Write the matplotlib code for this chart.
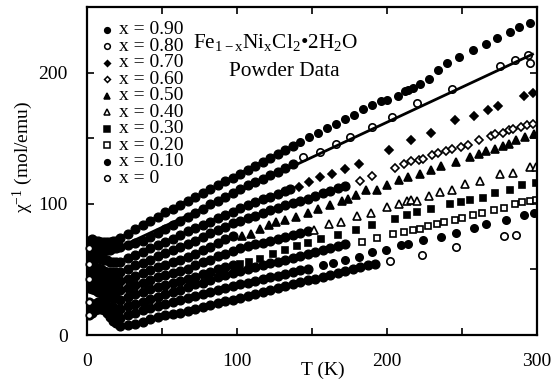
import matplotlib
matplotlib.use("Agg")
import matplotlib.pyplot as plt

plt.rcParams['font.family'] = ['Liberation Serif', 'DejaVu Serif']
plt.rcParams['mathtext.fontset'] = 'custom'
plt.rcParams['mathtext.rm'] = 'Liberation Serif'
plt.rcParams['mathtext.it'] = 'Liberation Serif:italic'

# low temperature points shared grid (K)
t_low = [1, 3, 5, 7, 9, 11, 13, 15, 17, 19]

# x = 0.90
lo_t_90 = t_low + [22, 27, 32, 37, 42, 47, 52, 57, 62, 67, 72, 77, 82, 87, 92, 97, 102, 107,
                   112, 117, 122, 127, 132, 137]
lo_c_90 = [72, 73, 72, 72, 71, 71, 71, 71, 72, 72,
           74, 77, 80.5, 84, 87, 90, 93.5, 96, 99, 102.5, 105, 108, 111, 114, 117.5, 120,
           123, 126, 129, 132, 135, 138, 141, 144]
hi_t_90 = [142, 148, 154, 160, 166, 172, 178, 184, 190, 196, 200, 207, 212, 214, 217, 222,
           228, 234, 240, 248, 257, 266, 273, 282, 288, 295]
hi_c_90 = [147, 151, 154, 158, 161, 165, 168, 172, 175, 178, 179, 182, 186, 187, 188, 191,
           195, 202, 207, 212, 217, 222, 226, 231, 235, 238]

# x = 0.80
lo_t_80 = t_low + [22, 27, 32, 37, 42, 47, 52, 57, 62, 67, 72, 77, 82, 87, 92, 97, 102, 107,
                   112, 117, 122, 127, 132, 137]
lo_c_80 = [66, 66, 65, 65, 64, 64, 65, 65, 66, 66,
           67, 68.5, 70, 72, 75, 78, 81, 84, 87, 90, 93, 96, 99.5, 102.5, 105.5, 108,
           111, 114, 116.5, 119, 122, 124.5, 127, 130]
hi_t_80 = [144, 155, 166, 175, 190, 203, 220, 243, 275, 285, 294, 295.5]
hi_c_80 = [135.6, 139.4, 145.8, 150.8, 158.4, 166, 176.5, 187.6, 205.3, 209.4, 213.5, 207.5]
fit_t_80 = [20, 297]
fit_c_80 = [66, 214]

# x = 0.70
lo_t_70 = t_low + [22, 27, 32, 37, 42, 47, 52, 57, 62, 67, 72, 77, 82, 87, 92, 97, 102, 107,
                   112, 117, 122, 127, 132, 135]
lo_c_70 = [61, 60, 60, 59, 58, 57, 57, 56, 56, 56,
           56, 58.5, 61, 63.5, 66, 68.5, 71, 73.5, 76, 79, 81.5, 84, 86.5, 89, 91.5, 94,
           96.5, 99, 101, 103.5, 105.5, 107.5, 110, 111]
hi_t_70 = [141, 148, 155, 163, 172, 181, 201, 216, 229, 245, 258, 267, 274, 291, 297]
hi_c_70 = [112.8, 116.6, 120.4, 123, 126.8, 130.6, 141.2, 148.8, 153.8, 163.5, 167.1, 171.6,
           174.7, 182.5, 184.6]

# x = 0.60
lo_t_60 = t_low + [22, 27, 32, 37, 42, 47, 52, 57, 62, 67, 72, 77, 82, 87, 92, 97, 102, 107,
                   112, 117, 122, 127, 132, 137, 142, 147, 152, 157, 162, 167, 172]
lo_c_60 = [54, 53, 52, 51, 50, 49, 48, 48, 48, 48,
           48, 50.5, 53, 55, 57.5, 60, 62.5, 64.5, 67, 69.5, 72, 75, 77.5, 80, 82.5, 85,
           87, 89, 91, 93, 95, 97, 99, 100.5, 102.5, 104, 106, 108, 110, 112, 113.5]
hi_t_60 = [182, 190, 205, 211, 216, 221, 224, 230, 234, 239, 243, 249, 254, 261, 269, 272,
           277, 281, 284, 289, 293, 297]
hi_c_60 = [117.5, 121, 127.5, 130, 132.5, 133.5, 134.5, 137.5, 139, 140.5, 142, 143.2, 145,
           148.8, 152, 152.9, 153.9, 155.9, 156.7, 158.4, 159.7, 161]

# x = 0.50
lo_t_50 = t_low + [22, 27, 32, 37, 42, 47, 52, 57, 62, 67, 72, 77, 82, 87, 92, 97]
lo_c_50 = [48, 47, 46, 45, 44, 43, 42, 42, 41, 41,
           41, 43, 45, 47, 49.5, 51.5, 53.5, 55.5, 57.5, 59.5, 62, 64.5, 67, 70, 73, 75.5]
hi_t_50 = [103, 109, 115, 121, 126, 132, 139, 147, 154, 162, 170, 174, 179, 186, 193, 200,
           208, 214, 222, 229, 236, 246, 255, 261, 266, 272, 277, 281, 286, 292, 298]
hi_c_50 = [75.5, 77.3, 81.1, 83.7, 86.2, 87.5, 90, 93, 96.3, 98.9, 101.9, 103.9, 106.5, 110.3,
           110.8, 114.5, 117.9, 120.4, 123, 125.5, 128.7, 131.8, 135.6, 138.1, 140.1, 142,
           143.7, 145.8, 148.3, 150.8, 152.9]

# x = 0.40
lo_t_40 = t_low + [22, 27, 32, 37, 42, 47, 52, 57, 62, 67, 72, 77, 82, 87, 92, 97, 102, 107,
                   112, 117, 122, 127, 132, 137, 142, 147]
lo_c_40 = [43, 42, 41, 40, 39, 38, 37, 36, 35, 34,
           34, 36, 38, 40, 42, 44, 45.5, 47, 49, 50.5, 53, 55.5, 57.5, 60, 62, 64, 66, 67.5,
           69, 70.5, 72, 73.5, 75, 76.5, 78, 79.5]
hi_t_40 = [151, 161, 169, 180, 189, 200, 208, 213, 216, 220, 228, 235, 243, 252, 262, 275,
           284, 295, 299]
hi_c_40 = [80.4, 84.9, 86.2, 90.5, 93.3, 97.6, 100.2, 102.2, 102.7, 102.1, 105.9, 108.9,
           110.8, 115.4, 117.4, 122.4, 123.7, 128, 128]

# x = 0.30
lo_t_30 = t_low + [22, 27, 32, 37, 42, 47, 52, 57, 62, 67, 72, 77, 82, 87, 92, 97]
lo_c_30 = [36, 35, 34, 33, 32, 31, 30, 29, 28, 28,
           27, 29, 31, 33, 35, 36.5, 38, 39.5, 41, 42.5, 44.5, 46.5, 48, 50, 51.5, 53]
hi_t_30 = [102, 108, 115, 124, 132, 140, 147, 156, 167, 179, 190, 205, 213, 220, 229, 242,
           249, 255, 264, 272, 282, 290, 299]
hi_c_30 = [53.8, 55.7, 58.3, 61.4, 64.6, 67.7, 70.2, 72.8, 76.6, 79.8, 83.7, 88.2, 91.3, 93.8,
           95.7, 100.2, 101.4, 102.7, 104.7, 108.2, 110.8, 114.6, 116]

# x = 0.20
lo_t_20 = t_low + [22, 27, 32, 37, 42, 47, 52, 57, 62, 67, 72, 77, 82, 87, 92, 97, 102, 107,
                   112, 117, 122, 127, 132, 137, 142, 147, 152, 157, 162, 167, 172]
lo_c_20 = [25, 24, 24, 23, 23, 22, 22, 21, 21, 20,
           20, 22, 24, 25.5, 27.5, 29, 31, 32.5, 34.5, 36.5, 38.5, 40, 42, 44, 45.5, 47,
           48.5, 50, 51.5, 53, 54.5, 56, 57.5, 59, 60.5, 62, 63.5, 65, 66.5, 67.5, 69]
hi_t_20 = [183, 193, 204, 211, 217, 222, 227, 233, 238, 245, 250, 257, 263, 271, 278, 285,
           290, 295, 299]
hi_c_20 = [71, 74.3, 76.8, 78.6, 80.4, 81.1, 82.9, 84.4, 86.2, 88, 89.5, 91.8, 93.3, 95.6,
           97.1, 100.2, 101, 102.2, 102.7]

# x = 0.10
lo_t_10 = t_low + [22, 27, 32, 37, 42, 47, 52, 57, 62, 67, 72, 77, 82, 87, 92, 97, 102, 107,
                   112, 117, 122, 127, 132, 137, 142, 147]
lo_c_10 = [22, 23, 24, 25, 25, 24, 22, 19, 16, 14,
           13, 15, 17, 19, 20.5, 22, 23.5, 25, 26.5, 28, 29.5, 31, 32.5, 34, 35.5, 37,
           38.5, 39.5, 41, 42.5, 44, 45, 46.5, 48, 49.5, 50.5]
hi_t_10 = [157, 164, 172, 181, 190, 199, 209, 214, 224, 236, 246, 258, 266, 279, 291, 298]
hi_c_10 = [53, 54.5, 57, 59.1, 63.3, 65.1, 68.4, 69.2, 72.2, 75, 77.8, 81.9, 84.9, 88, 91.3,
           93.3]

# x = 0
lo_t_00 = t_low + [22, 27, 32, 37, 42, 47, 52, 57, 62, 67, 72, 77, 82, 87, 92, 97, 102, 107,
                   112, 117, 122, 127, 132, 137, 142, 147, 152, 157, 162, 167, 172, 177,
                   182, 187, 192]
lo_c_00 = [15, 17, 19, 20, 20, 19, 17, 14, 11, 9,
           7, 7.5, 8.5, 10, 12, 13.5, 15, 16, 17, 18.5, 20, 21.5, 23, 24.5, 26, 27, 28.5,
           30, 31.5, 33, 34.5, 36, 37.5, 39, 40.5, 42, 43, 44.5, 46, 47.5, 49, 50.5, 51.5,
           53, 54]
hi_t_00 = [202, 223, 246, 278, 286]
hi_c_00 = [56.3, 60.8, 67.1, 75.3, 76]

labels = ['x = 0.90', 'x = 0.80', 'x = 0.70', 'x = 0.60', 'x = 0.50',
          'x = 0.40', 'x = 0.30', 'x = 0.20', 'x = 0.10', 'x = 0']

series = [
    (lo_t_90, lo_c_90, hi_t_90, hi_c_90, 'o', True),
    (lo_t_80, lo_c_80, hi_t_80, hi_c_80, 'o', False),
    (lo_t_70, lo_c_70, hi_t_70, hi_c_70, 'D', True),
    (lo_t_60, lo_c_60, hi_t_60, hi_c_60, 'D', False),
    (lo_t_50, lo_c_50, hi_t_50, hi_c_50, '^', True),
    (lo_t_40, lo_c_40, hi_t_40, hi_c_40, '^', False),
    (lo_t_30, lo_c_30, hi_t_30, hi_c_30, 's', True),
    (lo_t_20, lo_c_20, hi_t_20, hi_c_20, 's', False),
    (lo_t_10, lo_c_10, hi_t_10, hi_c_10, 'o', True),
    (lo_t_00, lo_c_00, hi_t_00, hi_c_00, 'o', False),
]

sizes = {'o': 5.3, 'D': 4.2, '^': 5.3, 's': 5.0}

fig = plt.figure(figsize=(5.55, 3.86), dpi=100)
ax = fig.add_axes([87 / 555, 51 / 386, 450 / 555, 328 / 386])

for lo_t, lo_c, hi_t, hi_c, m, filled in series:
    fc = 'black' if filled else 'white'
    ms = sizes[m]
    # dense runs: beads packed so tightly they read as a solid band on the fit line
    ax.plot(lo_t, lo_c, '-', color='black', lw=2.2, marker='o', ms=6.3,
            mfc='black', mec='black', mew=1.0)
    ax.plot(hi_t, hi_c, ls='none', marker=m, ms=ms, mfc=fc, mec='black', mew=1.2)

# hollow symbols of the lowest-temperature point stand out at the left edge
for lo_t, lo_c, hi_t, hi_c, m, filled in series:
    if not filled:
        ax.plot(lo_t[:1], lo_c[:1], ls='none', marker='o', ms=4.6, mfc='white',
                mec='black', mew=1.3, clip_on=False, zorder=3)

ax.plot(fit_t_80, fit_c_80, '-', color='black', lw=2.0)

# legend drawn by hand so the rows sit tight
for i, (lab, s) in enumerate(zip(labels, series)):
    m, filled = s[4], s[5]
    y = (335 - (30 + 16.45 * i)) / 328
    ax.plot([0.044], [y], transform=ax.transAxes, marker=m, ms=sizes[m] - 1.2,
            mfc='black' if filled else 'white', mec='black', mew=1.1, ls='none')
    ax.text(0.071, y, lab, transform=ax.transAxes, fontsize=14, va='center', ha='left')

ax.text(0.418, 0.893, r'Fe$_{\mathrm{1-x}}$Ni$_{\mathrm{x}}$Cl$_{\mathrm{2}}$•2H$_{\mathrm{2}}$O',
        transform=ax.transAxes, fontsize=15.3, ha='center', va='center')
ax.text(0.438, 0.802, 'Powder Data', transform=ax.transAxes, fontsize=15.3,
        ha='center', va='center')

ax.set_xlim(0, 300)
ax.set_ylim(0, 250)
ax.set_xticks([0, 100, 200, 300])
ax.set_xticks([50, 150, 250], minor=True)
ax.set_yticks([0, 100, 200])
ax.set_yticks([50, 150, 250], minor=True)
ax.tick_params(which='both', direction='in', top=True, right=True, width=1.2,
               labelsize=14)
ax.tick_params(axis='x', pad=13)
ax.tick_params(axis='y', pad=14)
ax.tick_params(which='major', length=5)
ax.tick_params(which='minor', length=5)
for sp in ax.spines.values():
    sp.set_linewidth(1.6)

ax.set_xlabel('T (K)', fontsize=14)
ax.xaxis.set_label_coords(0.524, -0.082)
ax.set_ylabel('χ$^{\\mathrm{-1}}$ (mol/emu)', fontsize=14)
ax.yaxis.set_label_coords(-0.116, 0.543)

fig.savefig('out.png', dpi=100)
